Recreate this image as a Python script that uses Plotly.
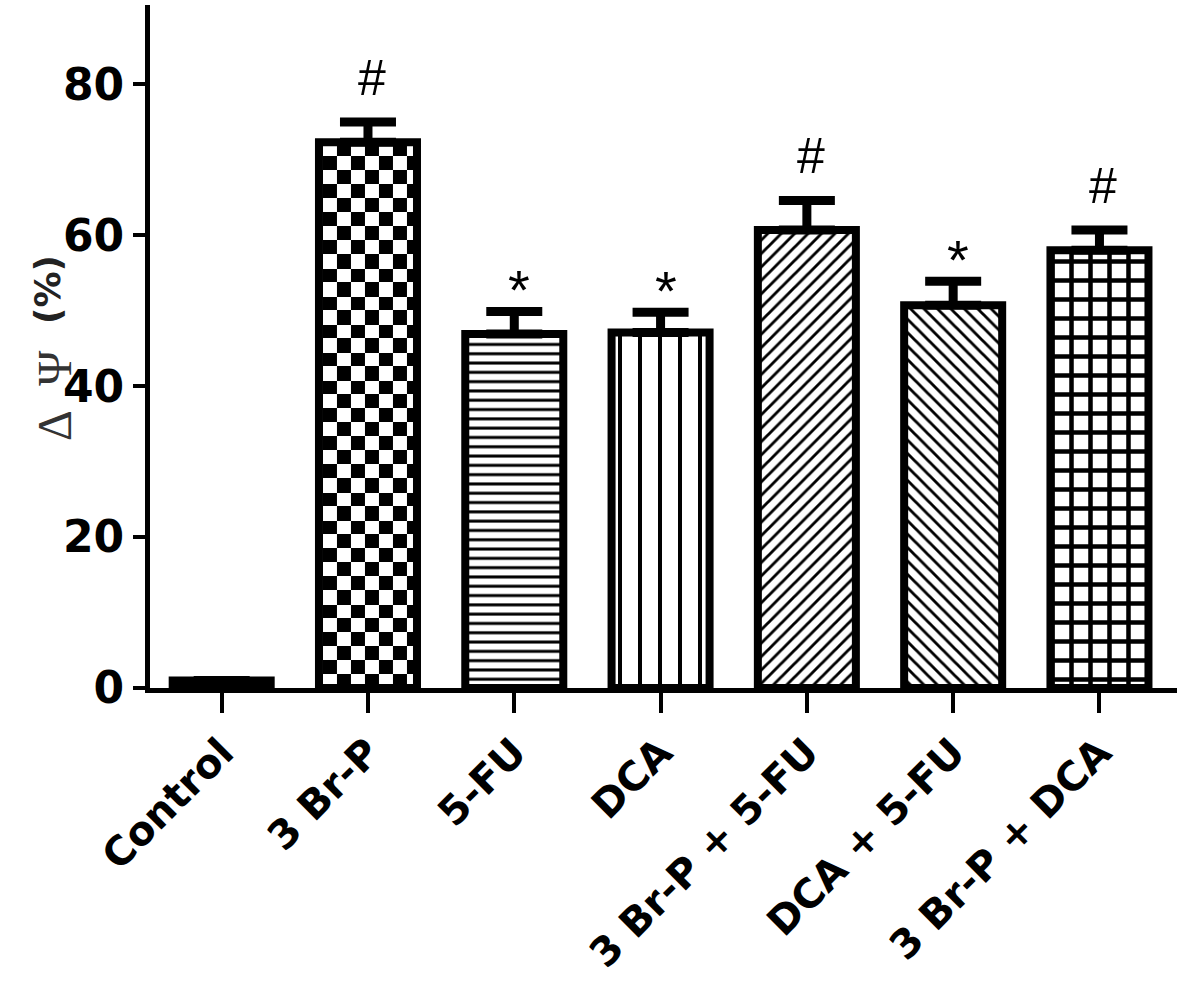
import plotly.graph_objects as go

# ---- data ----
categories = ["Control", "3 Br-P", "5-FU", "DCA", "3 Br-P + 5-FU", "DCA + 5-FU", "3 Br-P + DCA"]
values = [1.0, 72.3, 46.9, 47.1, 60.7, 50.7, 58.0]
errors = [0.0, 2.7, 3.0, 2.7, 3.9, 3.2, 2.7]
marks = ["", "#", "*", "*", "#", "*", "#"]
y_ticks = [0, 20, 40, 60, 80]

# ---- style ----
pattern_shapes = ["", ".", "-", "|", "/", "\\", "+"]
pattern_sizes = [10, 28, 9.3, 20, 9.5, 9.5, 19]
pattern_solidity = [0.3, 0.3, 0.32, 0.2, 0.3, 0.3, 0.42]

fig = go.Figure()
fig.add_trace(go.Bar(
    x=categories,
    y=values,
    width=0.67,
    marker=dict(
        color="white",
        line=dict(color="black", width=8),
        pattern=dict(shape=pattern_shapes, size=pattern_sizes, solidity=pattern_solidity,
                     fgcolor="black", bgcolor="white", fillmode="replace"),
    ),
    error_y=dict(type="data", symmetric=False, array=errors, arrayminus=[0] * len(errors),
                 color="black", thickness=9, width=28),
    showlegend=False,
))

for c, v, e, m in zip(categories, values, errors, marks):
    if not m:
        continue
    if m == "#":
        fig.add_annotation(x=c, y=v + e, text=m, showarrow=False, yanchor="bottom",
                           yshift=14, xshift=4, font=dict(family="Liberation Sans", size=50, color="black"))
    else:
        fig.add_annotation(x=c, y=v + e, text=m, showarrow=False, yanchor="bottom",
                           yshift=-12, xshift=5, font=dict(family="Liberation Sans", size=56, color="black"))

# y-axis title (two parts, matching the mixed fonts of the reference)
fig.add_annotation(
    xref="paper", yref="paper", x=-0.121, y=0.428, textangle=-90, showarrow=False,
    text="Δ\u00a0\u00a0Ψ",
    font=dict(family="Liberation Serif", size=48, color="#333333"),
)
fig.add_annotation(
    xref="paper", yref="paper", x=-0.121, y=0.583, textangle=-90, showarrow=False,
    text="(%)",
    font=dict(family="DejaVu Sans", size=36, color="#222222", weight="bold"),
)

fig.update_layout(
    width=1181, height=983,
    margin=dict(l=150, r=4, t=5, b=295),
    plot_bgcolor="white", paper_bgcolor="white",
    xaxis=dict(
        range=[-0.49, 6.53], showgrid=False, zeroline=False,
        showline=True, linecolor="black", linewidth=5,
        ticks="outside", ticklen=20, tickwidth=4, tickcolor="black",
        tickangle=-45,
        tickfont=dict(family="DejaVu Sans", size=40, color="black", weight="bold"),
    ),
    yaxis=dict(
        range=[0, 90.5], showgrid=False, zeroline=False,
        showline=True, linecolor="black", linewidth=5,
        ticks="outside", ticklen=12, tickwidth=4, tickcolor="black",
        tickvals=y_ticks,
        tickfont=dict(family="DejaVu Sans", size=44, color="black", weight="bold"),
    ),
)

checker_js = """
document.body.style.margin = '0';
var gd = document.getElementById('{plot_id}');
var paths = gd.querySelectorAll('.barlayer .point path');
var p = paths[1];
if (p) {
  var st = p.style.fill || p.getAttribute('style') || '';
  var m = st.match(/#([^"')\\s;]+)/);
  if (m) {
    var pat = document.getElementById(m[1]);
    if (pat) {
      var ns = 'http://www.w3.org/2000/svg';
      while (pat.firstChild) pat.removeChild(pat.firstChild);
      var s = 14;
      var bb = p.getBBox();
      pat.setAttribute('width', 2 * s); pat.setAttribute('height', 2 * s);
      pat.setAttribute('x', bb.x + 4); pat.setAttribute('y', bb.y + bb.height);
      var mk = function (x, y, c) {
        var r = document.createElementNS(ns, 'rect');
        r.setAttribute('x', x); r.setAttribute('y', y);
        r.setAttribute('width', s); r.setAttribute('height', s);
        r.setAttribute('fill', c); pat.appendChild(r);
      };
      mk(0, 0, 'black'); mk(s, 0, 'white'); mk(0, s, 'white'); mk(s, s, 'black');
    }
  }
}
"""

fig.write_html("out.html", post_script=checker_js, config={"staticPlot": True})
